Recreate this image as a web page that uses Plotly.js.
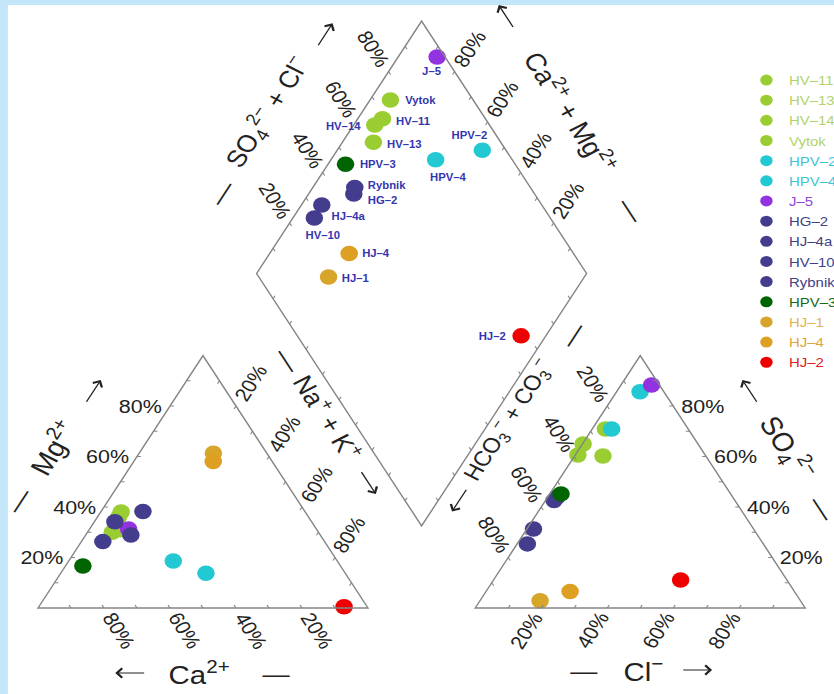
<!DOCTYPE html>
<html><head><meta charset="utf-8">
<script src="https://cdn.plot.ly/plotly-3.0.1.min.js"></script>
<style>
html,body{margin:0;padding:0;overflow:hidden;background:#c4e6fb;}
#wrap{width:834px;height:694px;overflow:hidden;}
#plot{width:737px;height:694px;transform:scaleX(1.13162);transform-origin:0 0;}
</style></head><body><div id="wrap"><div id="plot"></div></div>
<script>
// ---- data (percent of meq) ----
const samples = ['HV–11','HV–13','HV–14','Vytok','HPV–2','HPV–4','J–5','HG–2','HJ–4a','HV–10','Rybnik','HPV–3','HJ–1','HJ–4','HJ–2'];
const ca   = [62.5, 59.6, 57.6, 55.8, 42.2, 49.7, 56.9, 57.4, 59.6, 67.2, 49.1, 78.1, 16.2, 17.9,  7.0];
const mg   = [30.0, 31.0, 36.0, 38.0, 13.8, 18.6, 31.3, 28.9, 34.2, 26.3, 38.2, 16.6, 61.3, 58.0,  0.5];
const nak  = [ 7.5,  9.4,  6.4,  6.2, 44.0, 31.7, 11.8, 13.7,  6.2,  6.5, 12.7,  5.3, 22.5, 24.1, 92.5];
const hco3 = [31.2, 38.6, 34.8, 25.1,  7.2, 23.2,  2.4, 54.8, 66.7, 71.5, 53.2, 51.4, 78.9, 68.0, 32.2];
const so4  = [60.2, 60.6, 65.0, 70.9, 85.7, 70.9, 88.3, 42.6, 31.3, 25.4, 44.0, 45.2,  2.9,  6.5, 11.1];
const cl   = [ 8.6,  0.8,  0.2,  4.0,  7.1,  5.9,  9.3,  2.6,  2.0,  3.1,  2.8,  3.4, 18.2, 25.5, 56.7];
const tickPct = [20, 40, 60, 80];

// ---- styles ----
const colors = ['#9acd32','#9acd32','#9acd32','#9acd32','#22c8d2','#22c8d2','#9232e0','#443c8c','#443c8c','#443c8c','#443c8c','#006400','#d6a52a','#dea022','#ee0000'];
const textColors = ['#b3d36a','#b3d36a','#b3d36a','#b3d36a','#3fc4d6','#3fc4d6','#8f45d8','#3f3f88','#3f3f88','#3f3f88','#3f3f88','#176a17','#dcb455','#e0a33c','#e02020'];
const FONT = 'Liberation Sans, Arial, Helvetica, sans-serif';
const LINE = '#858585';
const PXU = 291.55; // unscaled pixels per geometry unit
// label placement of the sample names in the diamond: [xanchor, xshift, yshift]
const namePlace = {
  'HV–11':['left',9.7,-3], 'HV–13':['left',9.7,-2], 'HV–14':['right',-10.6,-1], 'Vytok':['left',10.6,0],
  'HPV–2':['right',7,15], 'HPV–4':['center',11.5,-18], 'J–5':['center',-4.4,-15], 'HG–2':['left',10.6,-7],
  'HJ–4a':['left',7,-11], 'HV–10':['center',8,-18], 'Rybnik':['left',9.7,2], 'HPV–3':['left',10.6,0],
  'HJ–1':['left',9.7,-1.6], 'HJ–4':['left',9.7,0], 'HJ–2':['right',-11.5,-1]
};

// ---- geometry ----
const h = Math.sqrt(3)/2, g = 0.325, X0 = 1 + g;
const B = [1 + g/2, g*h], u1 = [-0.5, h], u2 = [0.5, h];
const add = (a,b,k=1)=>[a[0]+k*b[0], a[1]+k*b[1]];
function catPt(i){ const t = ca[i]+mg[i]+nak[i]; const m = mg[i]/t, n = nak[i]/t; return [n + m/2, m*h]; }
function anPt(i){ const t = hco3[i]+so4[i]+cl[i]; const s = so4[i]/t, c = cl[i]/t; return [X0 + c + s/2, s*h]; }
function diaPt(i){
  const tc = ca[i]+mg[i]+nak[i], ta = hco3[i]+so4[i]+cl[i];
  const CM = (ca[i]+mg[i])/tc, A = (so4[i]+cl[i])/ta;
  return add(add(B, u1, CM), u2, A);
}

// edges: pt(k) for k in [0,1] along the axis, out = outward grid direction, labelled?
const edges = [
  {pt:k=>[k/2, k*h], out:[-1,0], lab:true},                          // Mg
  {pt:k=>[1-k, 0], out:[0.5,-h], lab:true},                          // Ca
  {pt:k=>[k+(1-k)/2, (1-k)*h], out:[0.5,h], lab:true},               // Na+K
  {pt:k=>[X0+k, 0], out:[-0.5,-h], lab:true},                        // Cl
  {pt:k=>[X0+(1-k)+k/2, k*h], out:[1,0], lab:true},                  // SO4
  {pt:k=>[X0+(1-k)/2, (1-k)*h], out:[-0.5,h], lab:true},             // HCO3
  {pt:k=>add(add(B,u1),u2,k), out:[-0.5,h], lab:true},               // SO4+Cl
  {pt:k=>add(add(B,u1,k),u2), out:[0.5,h], lab:true},                // Ca+Mg
  {pt:k=>add(B,u1,1-k), out:[-0.5,-h], lab:false},                   // diamond lower-left
  {pt:k=>add(B,u2,1-k), out:[0.5,-h], lab:false}                     // diamond lower-right
];
const readable = a => { while(a>90) a-=180; while(a<=-90) a+=180; return a; };
const scrAngle = v => Math.atan2(-v[1], v[0])*180/Math.PI;

const shapes = [];
const P = p => p[0].toFixed(5)+','+p[1].toFixed(5);
const outlines = [
  [[0,0],[1,0],[0.5,h]],
  [[X0,0],[X0+1,0],[X0+0.5,h]],
  [B, add(B,u1), add(add(B,u1),u2), add(B,u2)]
];
outlines.forEach(o=>shapes.push({type:'path', xref:'x', yref:'y', path:'M'+o.map(P).join('L')+'Z', line:{color:LINE, width:1.3}}));
let tickPath = '';
edges.forEach(e=>{
  for(let k=1;k<=9;k++){
    const p = e.pt(k/10), q = add(p, e.out, -0.012);
    tickPath += 'M'+P(p)+'L'+P(q);
  }
});
shapes.push({type:'path', xref:'x', yref:'y', path:tickPath, line:{color:LINE, width:1}});

const annotations = [];
edges.forEach(e=>{
  if(!e.lab) return;
  const ang = readable(scrAngle(e.out)), d = 26;
  tickPct.forEach(v=>{
    const p = e.pt(v/100);
    annotations.push({x:p[0], y:p[1], xref:'x', yref:'y', text:v+'%', showarrow:false,
      xanchor:'center', yanchor:'middle', textangle:ang, xshift:d*e.out[0], yshift:d*e.out[1],
      font:{family:FONT, size:19, color:'#222'}});
  });
});

// axis titles: edge index, text, size, inc dir, outward normal, [n,t] for title, arrow, dash
const titles = [
  {e:0, text:'Mg<sup>2+</sup>', size:26, inc:[0.5,h], nrm:[-h,0.5], tt:[69,0], ar:[66,66], da:[69,-61]},
  {e:1, text:'Ca<sup>2+</sup>', size:26, inc:[-1,0], nrm:[0,-1], tt:[65,3], ar:[65,64], da:[65,-65]},
  {e:2, text:'Na<sup>+</sup> + K<sup>+</sup>', size:24, inc:[0.5,-h], nrm:[h,0.5], tt:[65,-37], ar:[63,37], da:[63,-104]},
  {e:3, text:'Cl<sup>−</sup>', size:26, inc:[1,0], nrm:[0,-1], tt:[62,3], ar:[62,50], da:[62,-50]},
  {e:4, text:'SO<sub>4</sub><sup>2−</sup>', size:26, inc:[-0.5,h], nrm:[h,0.5], tt:[66,1], ar:[66,66], da:[63,-67]},
  {e:5, text:'HCO<sub>3</sub><sup>−</sup> + CO<sub>3</sub><sup>−</sup>', size:21, inc:[-0.5,-h], nrm:[-h,0.5], tt:[69,-32], ar:[66,59], da:[62,-134]},
  {e:6, text:'SO<sub>4</sub><sup>2−</sup> + Cl<sup>−</sup>', size:24, inc:[0.5,h], nrm:[-h,0.5], tt:[72,-1], ar:[67,91], da:[67,-92]},
  {e:7, text:'Ca<sup>2+</sup> + Mg<sup>2+</sup>', size:25, inc:[-0.5,h], nrm:[h,0.5], tt:[69,1], ar:[67,112], da:[66,-111]}
];
titles.forEach(T=>{
  const mid = edges[T.e].pt(0.5);
  const edgeAng = readable(scrAngle(T.inc));
  const place = (nt, text, ang, size)=>{
    annotations.push({x:mid[0], y:mid[1], xref:'x', yref:'y', text:text, showarrow:false,
      xanchor:'center', yanchor:'middle', textangle:ang,
      xshift:nt[0]*T.nrm[0]+nt[1]*T.inc[0], yshift:nt[0]*T.nrm[1]+nt[1]*T.inc[1],
      font:{family:FONT, size:size, color:'#222'}});
  };
  place(T.tt, T.text, edgeAng, T.size);
  place(T.da, '—', edgeAng, 24);
  // direction arrow: a thin line with an open head, pointing to increasing values
  const c = add(mid, [(T.ar[0]*T.nrm[0]+T.ar[1]*T.inc[0])/PXU, (T.ar[0]*T.nrm[1]+T.ar[1]*T.inc[1])/PXU]);
  const half = 13.5/PXU;
  const head = add(c, T.inc, half), tail = add(c, T.inc, -half);
  annotations.push({x:head[0], y:head[1], xref:'x', yref:'y', ax:tail[0], ay:tail[1], axref:'x', ayref:'y',
    text:'', showarrow:true, arrowhead:4, arrowsize:1.5, arrowwidth:1.2, arrowcolor:'#222', standoff:0, startstandoff:0});
});

// sample names in the diamond
samples.forEach((s,i)=>{
  const p = diaPt(i), pl = namePlace[s];
  annotations.push({x:p[0], y:p[1], xref:'x', yref:'y', text:s, showarrow:false,
    xanchor:pl[0], yanchor:'middle', xshift:pl[1], yshift:pl[2],
    font:{family:FONT, size:10, color:'#3535b0', weight:'bold'}});
});

// ---- traces ----
const traces = [];
samples.forEach((s,i)=>{
  const pts = [catPt(i), anPt(i), diaPt(i)];
  traces.push({type:'scatter', mode:'markers', x:pts.map(p=>p[0]), y:pts.map(p=>p[1]),
    marker:{size:15.5, color:colors[i], line:{width:0}}, showlegend:false, hoverinfo:'skip'});
});
samples.forEach((s,i)=>{
  traces.push({type:'scatter', mode:'markers', x:[null], y:[null], name:'<span style="color:'+textColors[i]+'">'+s+'</span>',
    marker:{size:11, color:colors[i]}, showlegend:true, hoverinfo:'skip'});
});

const layout = {
  width:737, height:694,
  margin:{l:7, r:0, t:5, b:0, pad:0, autoexpand:false},
  paper_bgcolor:'#c4e6fb', plot_bgcolor:'#ffffff',
  xaxis:{range:[-0.09115, 2.41228], visible:false, fixedrange:true, showgrid:false, zeroline:false},
  yaxis:{range:[-0.29503, 2.06861], visible:false, fixedrange:true, showgrid:false, zeroline:false},
  showlegend:true,
  legend:{x:0.8908, xanchor:'left', y:0.913, yanchor:'top', bgcolor:'rgba(0,0,0,0)', borderwidth:0,
    font:{family:FONT, size:13.2, color:'#444'}, tracegroupgap:0},
  shapes:shapes, annotations:annotations, font:{family:FONT}
};
Plotly.newPlot('plot', traces, layout, {staticPlot:true, displayModeBar:false});
</script></body></html>
